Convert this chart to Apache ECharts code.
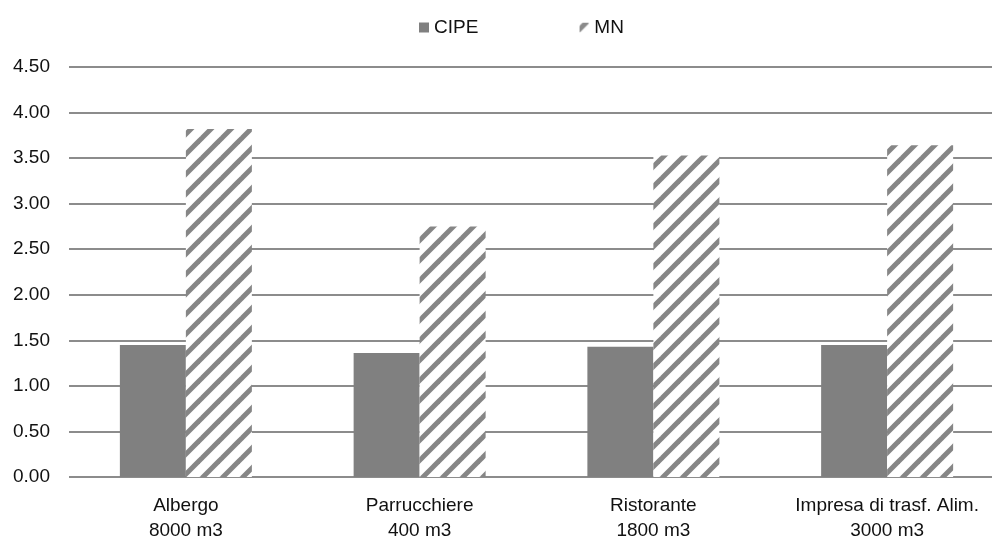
<!DOCTYPE html>
<html>
<head>
<meta charset="utf-8">
<script src="https://cdn.jsdelivr.net/npm/echarts@6/dist/echarts.min.js"></script>
<style>
  html, body { margin: 0; padding: 0; background: #fff; }
  #chart { width: 992px; height: 547px; }
</style>
</head>
<body>
<div id="chart"></div>
<script>
// Categories (two-line labels) and series values
const categories = ['Albergo\n8000 m3', 'Parrucchiere\n400 m3', 'Ristorante\n1800 m3', 'Impresa di trasf. Alim.\n3000 m3'];
const cipeValues = [1.45, 1.36, 1.43, 1.45];
const mnValues = [3.82, 2.75, 3.53, 3.64];
const seriesNames = ['CIPE', 'MN'];

// Diagonal hatch fill for the MN series
function makeHatch() {
  const s = 20;
  const c = document.createElement('canvas');
  c.width = s; c.height = s;
  const g = c.getContext('2d');
  g.fillStyle = '#ffffff';
  g.fillRect(0, 0, s, s);
  g.strokeStyle = '#868686';
  g.lineWidth = 5;
  g.lineCap = 'square';
  [-s, 0, s].forEach(dx => {
    g.beginPath();
    g.moveTo(dx, s);
    g.lineTo(dx + s, 0);
    g.stroke();
  });
  return c;
}

// Small swatch for the MN legend entry: a single diagonal stripe
function makeSwatch() {
  const s = 10;
  const c = document.createElement('canvas');
  c.width = s; c.height = s;
  const g = c.getContext('2d');
  g.fillStyle = '#ffffff';
  g.fillRect(0, 0, s, s);
  g.strokeStyle = '#8a8a8a';
  g.lineWidth = 5;
  g.beginPath();
  g.moveTo(-2, 9);
  g.lineTo(8, -1);
  g.stroke();
  return c;
}

const font = 'Liberation Sans, Arial, sans-serif';
const chart = echarts.init(document.getElementById('chart'));
chart.setOption({
  animation: false,
  backgroundColor: '#ffffff',
  legend: {
    left: 414,
    top: 13,
    itemWidth: 10,
    itemHeight: 10,
    itemGap: 101,
    icon: 'rect',
    textStyle: { fontFamily: font, fontSize: 19, color: '#111' },
    data: [
      { name: seriesNames[0] },
      { name: seriesNames[1], itemStyle: { color: { image: makeSwatch(), repeat: 'no-repeat' } } }
    ]
  },
  // plot area runs slightly past the right edge of the canvas
  grid: { left: 69, width: 935, top: 67, bottom: 70, outerBoundsMode: 'none', containLabel: false },
  xAxis: {
    type: 'category',
    data: categories,
    axisLine: { show: false },
    axisTick: { show: false },
    axisLabel: {
      fontFamily: font, fontSize: 19, color: '#111',
      lineHeight: 25, margin: 16, interval: 0
    }
  },
  yAxis: {
    type: 'value',
    min: 0,
    max: 4.5,
    interval: 0.5,
    axisLine: { show: false },
    axisTick: { show: false },
    axisLabel: {
      fontFamily: font, fontSize: 19, color: '#111', margin: 19,
      formatter: v => v.toFixed(2)
    },
    splitLine: { lineStyle: { color: '#8c8c8c', width: 2 } }
  },
  series: [
    {
      name: seriesNames[0],
      type: 'bar',
      data: cipeValues,
      barWidth: 66,
      barGap: '0%',
      itemStyle: { color: '#808080' }
    },
    {
      name: seriesNames[1],
      type: 'bar',
      data: mnValues,
      barWidth: 66,
      itemStyle: { color: { image: makeHatch(), repeat: 'repeat' } }
    }
  ]
});
</script>
</body>
</html>
